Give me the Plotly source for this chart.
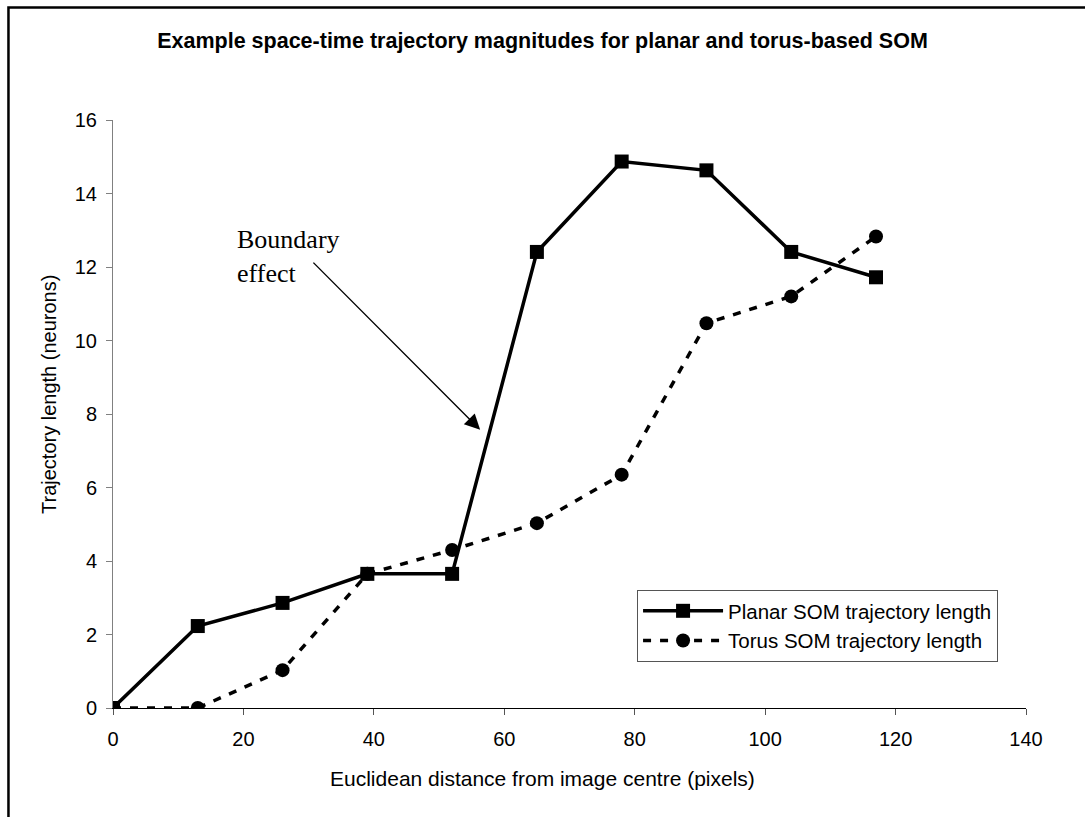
import plotly.graph_objects as go

# Data
distance = [0, 13, 26, 39, 52, 65, 78, 91, 104, 117]
planar_len = [0.0, 2.23, 2.86, 3.65, 3.65, 12.41, 14.87, 14.63, 12.41, 11.72]
torus_len = [0.0, 0.0, 1.03, 3.65, 4.3, 5.03, 6.35, 10.47, 11.2, 12.83]

x_ticks = [0, 20, 40, 60, 80, 100, 120, 140]
y_ticks = [0, 2, 4, 6, 8, 10, 12, 14, 16]

title_text = "Example space-time trajectory magnitudes for planar and torus-based SOM"
x_title = "Euclidean distance from image centre (pixels)"
y_title = "Trajectory length (neurons)"
planar_name = "Planar SOM trajectory length"
torus_name = "Torus SOM trajectory length"
note_text = "Boundary<br>effect"

SANS = "Liberation Sans, Arial, sans-serif"
SERIF = "Liberation Serif, Times New Roman, serif"

fig = go.Figure()
fig.add_trace(go.Scatter(
    x=distance, y=planar_len, name=planar_name, mode="lines+markers",
    line=dict(color="black", width=3.5),
    marker=dict(symbol="square", size=14, color="black"),
))
fig.add_trace(go.Scatter(
    x=distance, y=torus_len, name=torus_name, mode="lines+markers",
    line=dict(color="black", width=3.5, dash="8px,9px"),
    marker=dict(symbol="circle", size=14, color="black"),
))

fig.update_layout(
    width=1085, height=817, autosize=False,
    margin=dict(l=113, r=59, t=120, b=109),
    paper_bgcolor="white", plot_bgcolor="white",
    font=dict(family=SANS, size=20, color="black"),
    title=dict(text="<b>" + title_text + "</b>", x=0.5, xref="container",
               y=1 - 40 / 817, yref="container", yanchor="middle",
               xanchor="center", font=dict(size=21.5, family=SANS, color="black")),
    showlegend=True,
    legend=dict(x=0.574, y=0.2007, xanchor="left", yanchor="top",
                bgcolor="white", bordercolor="#555555", borderwidth=1,
                font=dict(size=20.5, family=SANS), itemwidth=80),
)

fig.update_xaxes(
    range=[0, 140], tickvals=x_ticks, showgrid=False, zeroline=False,
    showline=True, linecolor="black", linewidth=1,
    ticks="outside", ticklen=6, tickcolor="#555555", tickwidth=1,
    ticklabelstandoff=7, tickfont=dict(size=20),
)
fig.update_yaxes(
    range=[0, 16], tickvals=y_ticks, showgrid=False, zeroline=False,
    showline=True, linecolor="#808080", linewidth=1,
    ticks="outside", ticklen=6, tickcolor="#808080", tickwidth=1,
    ticklabelstandoff=5, tickfont=dict(size=20),
)

# Axis titles (positioned as in the reference: centred on the chart area)
fig.add_annotation(x=(542 - 113) / 913, y=(708 - 778) / 588, xref="paper", yref="paper",
                   text=x_title, showarrow=False, xanchor="center", yanchor="middle",
                   font=dict(size=21, family=SANS, color="black"))
fig.add_annotation(x=(49 - 113) / 913, y=(708 - 395) / 588, xref="paper", yref="paper",
                   text=y_title, showarrow=False, textangle=-90,
                   xanchor="center", yanchor="middle",
                   font=dict(size=20, family=SANS, color="black"))

# Outer chart frame (open to right/bottom as in the reference crop)
fig.add_shape(type="path", xref="paper", yref="paper",
              path="M -0.1145,-0.3 L -0.1145,1.1913 L 1.2,1.1913",
              line=dict(color="black", width=2.5))

# Annotation text and arrow
fig.add_annotation(x=18.7, y=13.2, xref="x", yref="y", text=note_text,
                   showarrow=False, xanchor="left", yanchor="top", align="left",
                   font=dict(family=SERIF, size=26, color="black"))
fig.add_annotation(x=56.3, y=7.57, xref="x", yref="y",
                   ax=30.5, ay=12.16, axref="x", ayref="y",
                   text="", showarrow=True, arrowhead=2, arrowsize=2.2,
                   arrowwidth=1.4, arrowcolor="black")

fig.write_html("out.html")
